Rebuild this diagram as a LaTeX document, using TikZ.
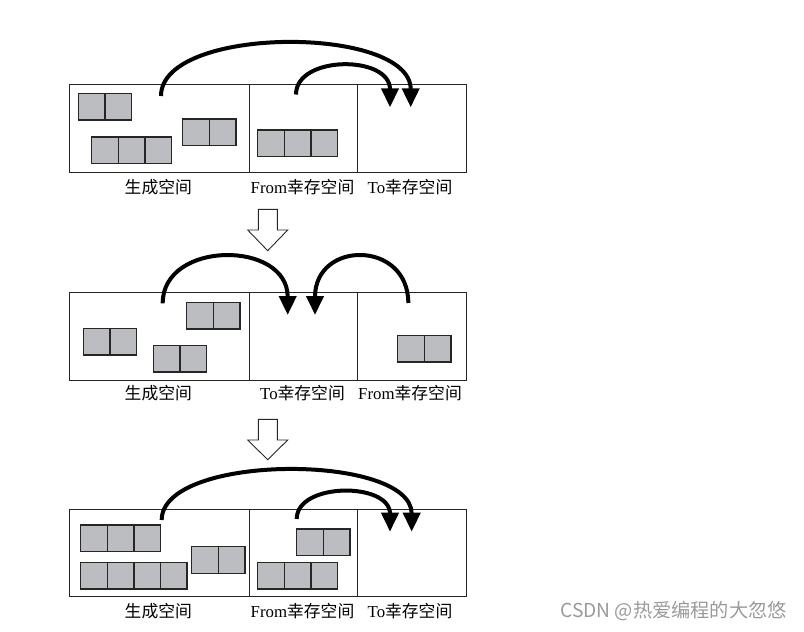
\documentclass[tikz,border=0pt]{standalone}
\usepackage{fontspec}
\setmainfont{Liberation Serif}
\newfontfamily\cjk{Noto Sans CJK SC}
\usetikzlibrary{arrows.meta}
\definecolor{cellgray}{HTML}{BCBDC0}
\definecolor{wmgray}{HTML}{9A9A9A}
\tikzset{
  cell/.style={draw=black!85, fill=cellgray, line width=1.4pt, minimum width=26.6pt, minimum height=26.6pt, inner sep=0pt, outer sep=0pt, anchor=north west},
  zone/.style={draw=black!85, line width=1pt, inner sep=0pt, outer sep=0pt, anchor=north west},
  lbl/.style={font=\fontsize{16.8}{16.8}\selectfont, inner sep=0pt},
  jump/.style={line width=4pt, -{Triangle[length=19pt,width=17pt]}},
  hollow/.style={draw=black!85, fill=white, line width=0.9pt, line join=miter}
}
\newcommand\blk[4]{\foreach \i in {1,...,#4}{\node[cell] (#1-\i) at ({#2+(\i-1)*26.6},#3) {};}}
\newcommand\zones[2]{%
  \node[zone, minimum width=179.8pt, minimum height=#2pt] (#1g) at (69.5,\zy) {};
  \node[zone, minimum width=107.7pt, minimum height=#2pt] (#1f) at (249.3,\zy) {};
  \node[zone, minimum width=109pt, minimum height=#2pt] (#1t) at (357,\zy) {};
}
\begin{document}
\begin{tikzpicture}[x=1pt,y=-1pt]
\useasboundingbox (0,0) rectangle (804,632);
% ---------- panel 1 ----------
\def\zy{84.5}
\zones{a}{88}
\blk{a1}{78.3}{93.3}{2}
\blk{a2}{91.7}{136.9}{3}
\blk{a3}{182.7}{119}{2}
\blk{a4}{257.7}{130}{3}
\coordinate (a1s) at (161,96);
\coordinate (a1e) at (410.7,107.3);
\coordinate (a2s) at (296,94.5);
\coordinate (a2e) at (390,107.3);
\draw[jump] (a1s) .. controls (161,25) and (410.7,25) .. (a1e);
\draw[jump] (a2s) .. controls (296,55) and (390,55) .. (a2e);
\node[lbl] (la1) at (158.3,186.7) {\cjk 生成空间};
\node[lbl] (la2) at (302.5,186.7) {From{\cjk 幸存空间}};
\node[lbl] (la3) at (410,186.7) {To{\cjk 幸存空间}};
% hollow arrow 1
\draw[hollow] (258.3,209.3) -- (277.3,209.3) -- (277.3,230) -- (287.7,230) -- (267.7,250.7) -- (247.7,230) -- (258.3,230) -- cycle;
% ---------- panel 2 ----------
\def\zy{292.3}
\zones{b}{87.7}
\blk{b1}{83.3}{328.3}{2}
\blk{b2}{153.3}{345.5}{2}
\blk{b3}{186.7}{302.5}{2}
\blk{b4}{397.7}{335.5}{2}
\coordinate (b1s) at (162.7,303.3);
\coordinate (b1e) at (287.7,315);
\coordinate (b2s) at (408.3,303);
\coordinate (b2e) at (315,315);
\draw[jump] (b1s) .. controls (162.7,240) and (287.7,240) .. (b1e);
\draw[jump] (b2s) .. controls (408.3,240) and (315,240) .. (b2e);
\node[lbl] (lb1) at (158.3,393.3) {\cjk 生成空间};
\node[lbl] (lb2) at (302.5,393.3) {To{\cjk 幸存空间}};
\node[lbl] (lb3) at (410,393.3) {From{\cjk 幸存空间}};
% hollow arrow 2
\draw[hollow] (258.3,419.3) -- (277.3,419.3) -- (277.3,440) -- (287.7,440) -- (267.7,459.7) -- (247.7,440) -- (258.3,440) -- cycle;
% ---------- panel 3 ----------
\def\zy{509.3}
\zones{c}{87.4}
\blk{c1}{80.7}{525}{3}
\blk{c2}{80.7}{562.5}{4}
\blk{c3}{191.7}{546.7}{2}
\blk{c4}{296.7}{529}{2}
\blk{c5}{257.7}{562.5}{3}
\coordinate (c1s) at (161.7,520);
\coordinate (c1e) at (411.7,531.7);
\coordinate (c2s) at (296.7,519);
\coordinate (c2e) at (390,531.7);
\draw[jump] (c1s) .. controls (161.7,453) and (411.7,453) .. (c1e);
\draw[jump] (c2s) .. controls (296.7,482) and (390,482) .. (c2e);
\node[lbl] (lc1) at (158.3,611.2) {\cjk 生成空间};
\node[lbl] (lc2) at (302.5,611.2) {From{\cjk 幸存空间}};
\node[lbl] (lc3) at (410,611.2) {To{\cjk 幸存空间}};
% watermark
\node[font=\cjk\fontsize{19.2}{19.2}\selectfont, text=wmgray, inner sep=0pt] (wm) at (673.5,611) {CSDN @热爱编程的大忽悠};
\end{tikzpicture}
\end{document}
